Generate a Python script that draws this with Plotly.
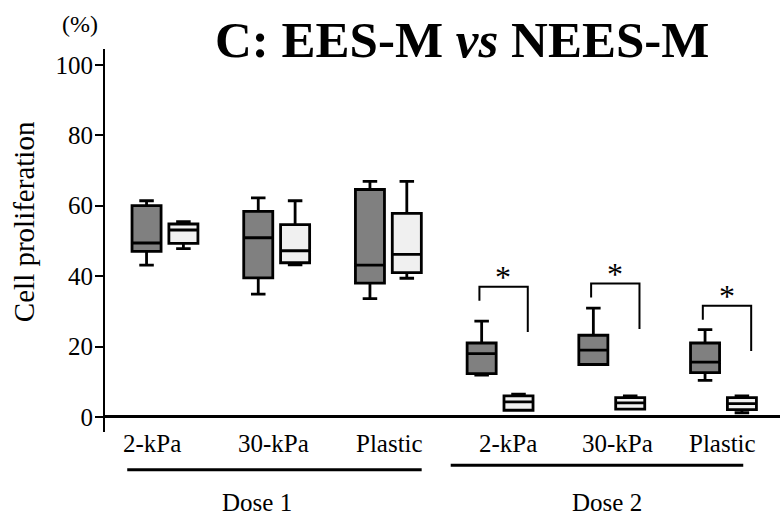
import plotly.graph_objects as go

# ---- data ---------------------------------------------------------------
conditions = ["2-kPa", "30-kPa", "Plastic", "2-kPa", "30-kPa", "Plastic"]
doses = ["Dose 1", "Dose 2"]

# EES-M (dark boxes)
ees_low = [43.1, 34.9, 33.6, 11.9, 14.9, 10.4]
ees_q1 = [47.0, 39.5, 38.0, 12.3, 14.9, 12.6]
ees_med = [49.4, 50.9, 43.1, 18.0, 19.0, 15.6]
ees_q3 = [60.0, 58.4, 64.6, 21.0, 23.2, 21.0]
ees_high = [61.4, 62.2, 66.9, 27.2, 30.9, 24.8]

# NEES-M (light boxes)
nees_low = [47.8, 43.2, 39.4, 1.9, 2.2, 1.2]
nees_q1 = [49.3, 43.8, 41.0, 1.9, 2.2, 2.1]
nees_med = [53.1, 47.2, 46.2, 4.3, 4.0, 3.8]
nees_q3 = [54.8, 54.6, 57.8, 6.0, 5.5, 5.5]
nees_high = [55.5, 61.4, 66.9, 6.45, 6.0, 6.0]

# significance brackets (Dose 2 groups) - height of the bracket bar
sig_groups = [3, 4, 5]
sig_top = [37.0, 37.9, 31.6]

y_ticks = [0, 20, 40, 60, 80, 100]

# ---- style / geometry ---------------------------------------------------
FONT = "Liberation Serif"
DARK = "#808080"
LIGHT = "#f0f0f0"
OFFSET = 0.165        # half distance between paired boxes
BOX_W = 0.26
W, H = 780, 519
M_L, M_R, M_T, M_B = 105, 0, 49, 87.3
PLOT_H = H - M_T - M_B
X_RANGE = [-0.537, 5.506]
Y_RANGE = [-4.27, 104.5]


def paper_y(px):
    """Vertical paper coordinate for a pixel row of the page."""
    return (H - M_B - px) / PLOT_H


def paper_x(px):
    return (px - M_L) / (W - M_L - M_R)


groups = list(range(len(conditions)))

fig = go.Figure()
fig.add_trace(go.Box(
    x=[g - OFFSET for g in groups],
    lowerfence=ees_low, q1=ees_q1, median=ees_med, q3=ees_q3, upperfence=ees_high,
    fillcolor=DARK, line=dict(color="black", width=2.8),
    width=BOX_W, whiskerwidth=0.5, boxpoints=False, name="EES-M",
    showlegend=False,
))
fig.add_trace(go.Box(
    x=[g + OFFSET for g in groups],
    lowerfence=nees_low, q1=nees_q1, median=nees_med, q3=nees_q3, upperfence=nees_high,
    fillcolor=LIGHT, line=dict(color="black", width=2.8),
    width=BOX_W, whiskerwidth=0.5, boxpoints=False, name="NEES-M",
    showlegend=False,
))

shapes = []
annotations = []

# significance brackets and stars
for g, top in zip(sig_groups, sig_top):
    x0, x1 = g - 0.185, g + 0.248
    shapes.append(dict(
        type="path", xref="x", yref="y",
        path=f"M {x0},{top - 4.0} L {x0},{top} L {x1},{top} L {x1},{top - 12.9}",
        line=dict(color="black", width=2),
    ))
    annotations.append(dict(
        x=g + 0.03, y=top + 4.2, xref="x", yref="y", text="*", showarrow=False,
        font=dict(family=FONT, size=32, color="black"), yanchor="middle", yshift=-5,
    ))

# condition labels below the axis
label_shift = [-13, -3, 1, 8, 6, -1]
for g, name, sh in zip(groups, conditions, label_shift):
    annotations.append(dict(
        x=g, y=paper_y(443), xref="x", yref="paper", text=name, showarrow=False,
        xshift=sh, yanchor="middle",
        font=dict(family=FONT, size=25, color="black"),
    ))

# dose grouping lines and labels
dose_spans = [(-0.338, 2.298, 469.3), (2.558, 5.177, 465.0)]
dose_label_x = [0.824, 3.957]
for (x0, x1, py), lx, name in zip(dose_spans, dose_label_x, doses):
    shapes.append(dict(
        type="line", xref="x", yref="paper", x0=x0, x1=x1,
        y0=paper_y(py), y1=paper_y(py), line=dict(color="black", width=3),
    ))
    annotations.append(dict(
        x=lx, y=paper_y(502.5), xref="x", yref="paper", text=name, showarrow=False,
        yanchor="middle", font=dict(family=FONT, size=25, color="black"),
    ))

# axis title, unit and chart title
annotations.append(dict(
    x=paper_x(24), y=paper_y(222), xref="paper", yref="paper",
    text="Cell proliferation", textangle=-90, showarrow=False,
    xanchor="center", yanchor="middle",
    font=dict(family=FONT, size=29, color="black"),
))
annotations.append(dict(
    x=paper_x(80), y=paper_y(24), xref="paper", yref="paper",
    text="(%)", showarrow=False, xanchor="center", yanchor="middle",
    font=dict(family=FONT, size=24, color="black"),
))
annotations.append(dict(
    x=paper_x(461.5), y=paper_y(40), xref="paper", yref="paper",
    text="<b>C: EES-M <i>vs</i> NEES-M</b>", showarrow=False,
    xanchor="center", yanchor="middle",
    font=dict(family=FONT, size=51, color="black"),
))

fig.update_layout(
    width=W, height=H,
    margin=dict(l=M_L, r=M_R, t=M_T, b=M_B, pad=0),
    paper_bgcolor="white", plot_bgcolor="white",
    boxmode="overlay",
    xaxis=dict(range=X_RANGE, showticklabels=False, showgrid=False,
               zeroline=False, showline=False, ticks=""),
    yaxis=dict(range=Y_RANGE, tickvals=y_ticks, ticks="outside", ticklen=8,
               tickwidth=2, tickcolor="black", showline=True, linewidth=2,
               linecolor="black", showgrid=False, zeroline=True,
               zerolinecolor="black", zerolinewidth=2.6,
               ticklabelstandoff=-3,
               tickfont=dict(family=FONT, size=25, color="black")),
    shapes=shapes, annotations=annotations,
    font=dict(family=FONT, color="black"),
)

fig.write_html("out.html")
